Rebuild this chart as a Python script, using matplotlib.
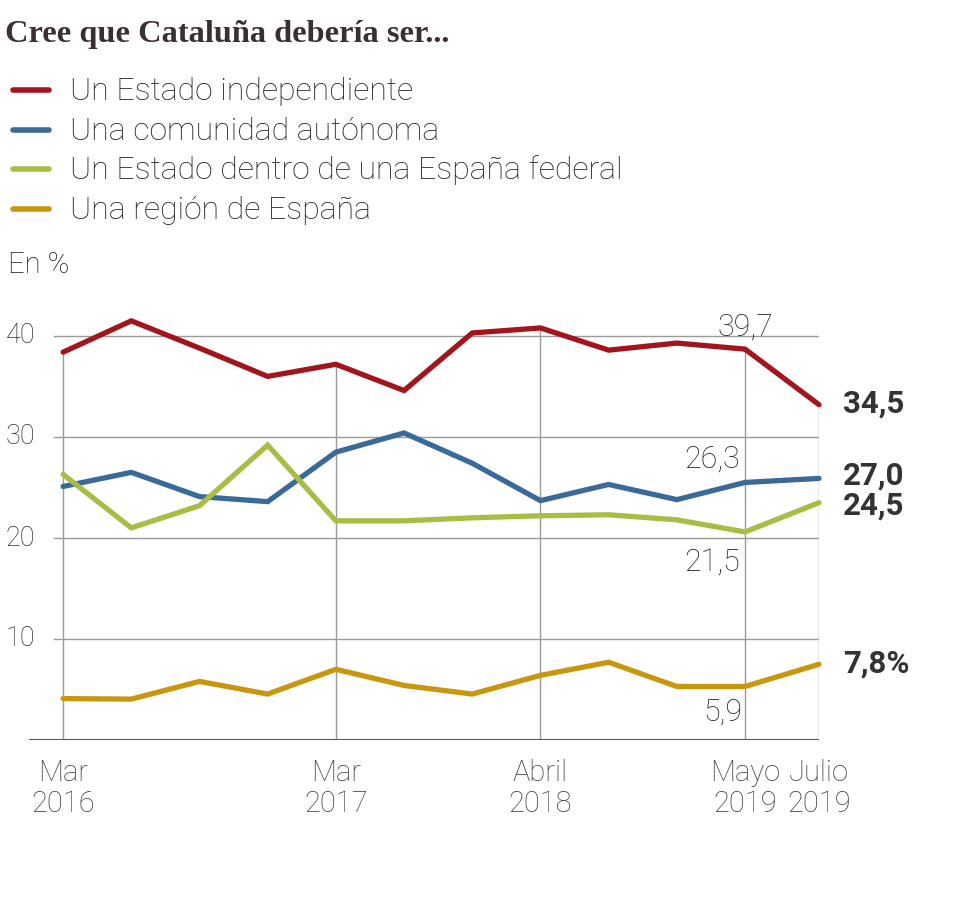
import matplotlib
matplotlib.use("Agg")
import matplotlib.pyplot as plt
from matplotlib.lines import Line2D

SANS = ["Roboto", "DejaVu Sans"]
SERIF = ["Liberation Serif", "DejaVu Serif"]

# datos (lectura del gráfico), en %
x = [0, 1, 2, 3, 4, 5, 6, 7, 8, 9, 10, 11.085]
independiente = [38.4, 41.5, 38.8, 36.0, 37.2, 34.6, 40.3, 40.8, 38.6, 39.3, 38.7, 33.2]
autonomia = [25.1, 26.5, 24.1, 23.6, 28.5, 30.4, 27.4, 23.7, 25.3, 23.8, 25.5, 25.9]
federal = [26.3, 21.0, 23.2, 29.2, 21.7, 21.7, 22.0, 22.2, 22.3, 21.8, 20.6, 23.5]
region = [4.1, 4.05, 5.8, 4.55, 7.0, 5.4, 4.55, 6.4, 7.7, 5.3, 5.3, 7.5]

series = ["Un Estado independiente", "Una comunidad autónoma",
          "Un Estado dentro de una España federal", "Una región de España"]
colores = ["#a3151c", "#3a6a9a", "#a8bd44", "#c9970f"]

ticks_x = [0, 4, 7, 10, 11.085]
meses = ["Mar", "Mar", "Abril", "Mayo", "Julio"]
anios = ["2016", "2017", "2018", "2019", "2019"]
ticks_y = [10, 20, 30, 40]

# etiquetas: (serie, punto, texto, dx, dy, alineación, negrita)
etiquetas = [
    (0, 10, "39,7", 0, 14, "center", False),
    (1, 10, "26,3", -5, 15, "right", False),
    (2, 10, "21,5", -5, -39, "right", False),
    (3, 10, "5,9", -3, -34, "right", False),
    (0, 11, "34,5", 24, -8, "left", True),
    (1, 11, "27,0", 24, -6, "left", True),
    (2, 11, "24,5", 24, -12, "left", True),
    (3, 11, "7,8%", 24, -8, "left", True),
]

W, H = 980, 908
fig = plt.figure(figsize=(W / 100, H / 100), dpi=100)

def fx(px):
    return px / W

def fy(py):
    return 1 - py / H

ax = fig.add_axes([fx(29), fy(740), fx(819 - 29), (740 - 290) / H])
ax.set_xlim(-0.5, 11.085)
ax.set_ylim(0, 450 / 10.1)
ax.axis("off")

datos = [independiente, autonomia, federal, region]

# rejilla
for v in ticks_y:
    ax.axhline(v, xmin=(54 - 29) / 790, xmax=1, color="#9a9a9a", lw=1.0, zorder=1)
    ax.text(6 / 790, v, str(v), transform=ax.get_yaxis_transform(), ha="right",
            va="center", fontsize=19.5, color="#2e2e2e", family=SANS, fontweight="light")
tope = dict(zip(x, independiente))
ax.vlines(ticks_x, 0, [tope[t] for t in ticks_x], color="#9a9a9a", lw=1.0, zorder=1)
ax.axhline(0, color="#555555", lw=2.2, zorder=2)

for t, m, a in zip(ticks_x, meses, anios):
    ax.text(t, -(781 - 740) / 450, m, transform=ax.get_xaxis_transform(), ha="center",
            va="baseline", fontsize=21, color="#3c3c3c", family=SANS, fontweight="light")
    ax.text(t, -(812 - 740) / 450, a, transform=ax.get_xaxis_transform(), ha="center",
            va="baseline", fontsize=21, color="#3c3c3c", family=SANS, fontweight="light")

for d, c in zip(datos, colores):
    ax.plot(x, d, color=c, lw=3.8, solid_capstyle="round", solid_joinstyle="miter",
            zorder=3, clip_on=False)

for s, i, txt, dx, dy, ha, neg in etiquetas:
    ax.annotate(txt, (x[i], datos[s][i]), xytext=(dx, dy), textcoords="offset pixels",
                ha=ha, va="baseline", fontsize=22.5 if neg else 22,
                color="#333333" if neg else "#222222",
                family=SANS, fontweight="bold" if neg else "light")

# título y leyenda
fig.text(fx(5), fy(42), "Cree que Cataluña debería ser...", ha="left", va="baseline",
         fontsize=23.3, fontweight="bold", color="#3a2f33", family=SERIF)

for k, (nombre, c) in enumerate(zip(series, colores)):
    yb = 100 + k * 39.7
    fig.add_artist(Line2D([fx(13), fx(49)], [fy(yb - 10), fy(yb - 10)], color=c, lw=4,
                          solid_capstyle="round", transform=fig.transFigure))
    fig.text(fx(70), fy(yb), nombre, ha="left", va="baseline", fontsize=23,
             color="#1e1e1e", family=SANS, fontweight="light")

fig.text(fx(8), fy(273), "En %", ha="left", va="baseline", fontsize=21,
         color="#1e1e1e", family=SANS, fontweight="light")

fig.savefig("out.png", dpi=100, facecolor="white")
